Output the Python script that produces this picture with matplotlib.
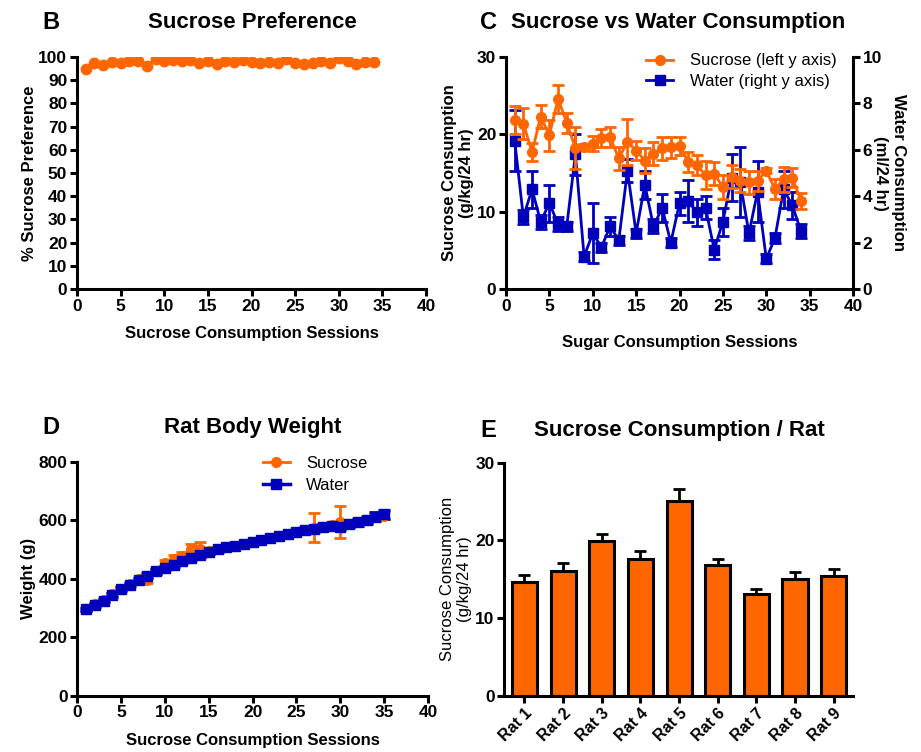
import matplotlib
matplotlib.use("Agg")
import matplotlib.pyplot as plt
from matplotlib.lines import Line2D

plt.rcParams["font.family"] = ["Liberation Sans", "DejaVu Sans"]
plt.rcParams["font.weight"] = "bold"
plt.rcParams["axes.labelweight"] = "bold"

ORANGE = "#FF6600"
BLUE = "#0000BB"

# Panel B: sucrose preference per session
pref_sessions = list(range(1, 35))
pref_values = [95.0, 97.5, 96.5, 98.0, 97.5, 98.3, 98.3, 96.3, 99.0, 98.3,
               98.8, 98.3, 98.5, 97.3, 98.3, 96.8, 98.2, 98.0, 98.8, 98.0,
               97.6, 98.0, 97.3, 99.0, 97.3, 96.8, 97.3, 98.3, 97.3, 99.4,
               98.3, 96.8, 97.8, 98.0]

# Panel C: sucrose (g/kg/24 hr) and water (ml/24 hr) consumption
cons_sessions = list(range(1, 35))
sucrose_mean = [21.8, 21.4, 17.7, 22.3, 19.9, 24.6, 21.5, 18.2, 18.4, 18.8,
                19.5, 19.6, 16.9, 19.0, 17.9, 16.6, 17.5, 18.2, 18.3, 18.5,
                16.4, 16.0, 14.7, 14.9, 13.2, 14.5, 14.0, 13.8, 14.0, 15.3,
                12.9, 14.2, 14.4, 11.4]
sucrose_err = [1.8, 2.0, 1.2, 1.5, 2.0, 1.8, 1.3, 2.7, 0.3, 1.0,
               1.2, 1.3, 1.5, 3.0, 1.2, 1.6, 1.5, 1.5, 1.3, 1.2,
               1.3, 1.3, 1.8, 1.5, 1.5, 1.5, 1.5, 1.5, 1.3, 0.3,
               1.3, 1.6, 1.2, 1.0]
water_mean = [6.4, 3.1, 4.3, 2.9, 3.7, 2.8, 2.7, 5.8, 1.4, 2.4,
              1.8, 2.7, 2.1, 5.1, 2.4, 4.5, 2.7, 3.5, 2.0, 3.7,
              3.8, 3.3, 3.5, 1.7, 2.9, 4.8, 4.6, 2.4, 4.2, 1.3,
              2.2, 4.3, 3.6, 2.5]
water_err = [1.3, 0.3, 0.8, 0.3, 0.8, 0.3, 0.2, 0.9, 0.2, 1.3,
             0.2, 0.4, 0.2, 0.5, 0.2, 0.6, 0.3, 0.6, 0.2, 0.5,
             0.9, 0.6, 0.5, 0.4, 0.6, 1.0, 1.5, 0.3, 1.3, 0.2,
             0.2, 0.8, 0.6, 0.3]

# Panel D: body weight (g)
weight_sessions = list(range(1, 36))
weight_sucrose = [295, 312, 328, 347, 366, 382, 398, 395, 425, 455,
                  468, 478, 500, 500, 495, 502, 507, 513, 520, 527,
                  533, 540, 547, 553, 560, 566, 575, 576, 582, 595,
                  588, 593, 600, 610, 615]
weight_sucrose_err = [5, 5, 5, 5, 5, 5, 6, 8, 8, 10,
                      12, 12, 20, 25, 8, 6, 6, 6, 6, 6,
                      6, 6, 6, 6, 8, 10, 50, 10, 10, 55,
                      10, 10, 10, 12, 12]
weight_water = [295, 310, 325, 345, 365, 380, 395, 410, 425, 437,
                447, 460, 472, 482, 492, 500, 507, 513, 520, 527,
                533, 540, 547, 553, 560, 566, 571, 576, 580, 578,
                588, 593, 600, 612, 620]
weight_water_err = [6, 6, 6, 6, 6, 6, 6, 8, 8, 8,
                    8, 8, 8, 8, 8, 8, 6, 6, 6, 6,
                    6, 6, 6, 6, 8, 8, 10, 10, 10, 12,
                    12, 12, 12, 15, 15]

# Panel E: sucrose consumption per rat
rats = ["Rat 1", "Rat 2", "Rat 3", "Rat 4", "Rat 5", "Rat 6", "Rat 7", "Rat 8", "Rat 9"]
rat_mean = [14.7, 16.1, 19.9, 17.6, 25.1, 16.8, 13.1, 15.0, 15.4]
rat_err = [0.9, 1.0, 0.9, 1.0, 1.5, 0.8, 0.7, 0.9, 0.9]

TICK_FS = 12.5
LABEL_FS = 12
LEGEND_FS = 12


def prism_axes(ax, right=False):
    for side in ["top"] + ([] if right else ["right"]):
        ax.spines[side].set_visible(False)
    for s in ax.spines.values():
        s.set_linewidth(2.2)
    ax.tick_params(direction="out", length=5, width=2.2, labelsize=TICK_FS, pad=2)
    for lab in ax.get_xticklabels() + ax.get_yticklabels():
        lab.set_fontweight("bold")


fig = plt.figure(figsize=(9.21, 7.52), dpi=100)

# ---- B ----
axB = fig.add_axes([0.0836, 0.6157, 0.379, 0.3085])
axB.plot(pref_sessions, pref_values, "-o", color=ORANGE, ms=7.5, lw=2)
axB.set_xlim(0, 40)
axB.set_ylim(0, 100)
axB.set_xticks(range(0, 41, 5))
axB.set_yticks(range(0, 101, 10))
prism_axes(axB)
axB.set_xlabel("Sucrose Consumption Sessions", fontsize=LABEL_FS, labelpad=9)
axB.set_ylabel("% Sucrose Preference", fontsize=LABEL_FS, labelpad=1)

# ---- C ----
axC = fig.add_axes([0.5494, 0.6157, 0.3768, 0.3085])
axC2 = axC.twinx()
axC.errorbar(cons_sessions, sucrose_mean, yerr=sucrose_err, fmt="-o", color=ORANGE,
             ms=7, lw=2, elinewidth=2, capsize=4, capthick=2, zorder=3)
axC2.errorbar(cons_sessions, water_mean, yerr=water_err, fmt="-s", color=BLUE,
              ms=7, lw=2, elinewidth=2, capsize=4, capthick=2)
axC.set_zorder(axC2.get_zorder() + 1)
axC.patch.set_visible(False)
axC.set_xlim(0, 40)
axC.set_ylim(0, 30)
axC2.set_ylim(0, 10)
axC.set_xticks(range(0, 41, 5))
axC.set_yticks([0, 10, 20, 30])
axC2.set_yticks(range(0, 11, 2))
prism_axes(axC)
prism_axes(axC2, right=True)
axC2.spines["left"].set_visible(False)
axC2.spines["bottom"].set_visible(False)
axC.set_xlabel("Sugar Consumption Sessions", fontsize=LABEL_FS, labelpad=15)
axC.set_ylabel("Sucrose Consumption\n(g/kg/24 hr)", fontsize=LABEL_FS, labelpad=2)
axC2.set_ylabel("Water Consumption\n(ml/24 hr)", fontsize=LABEL_FS, rotation=270,
                labelpad=17)
handlesC = [Line2D([], [], color=ORANGE, marker="o", ms=7, lw=2),
            Line2D([], [], color=BLUE, marker="s", ms=7, lw=2)]
axC.legend(handlesC, ["Sucrose (left y axis)", "Water (right y axis)"],
           loc="upper right", bbox_to_anchor=(0.995, 1.08), frameon=False,
           prop={"weight": "normal", "size": LEGEND_FS}, handlelength=1.6,
           handletextpad=1.0, labelspacing=0.35)

# ---- D ----
axD = fig.add_axes([0.0839, 0.0749, 0.3808, 0.3111])
axD.errorbar(weight_sessions, weight_sucrose, yerr=weight_sucrose_err, fmt="-o",
             color=ORANGE, ms=7, lw=2, elinewidth=2, capsize=4, capthick=2)
axD.errorbar(weight_sessions, weight_water, yerr=weight_water_err, fmt="-s",
             color=BLUE, ms=7.5, lw=2.5, elinewidth=2, capsize=4, capthick=2)
axD.set_xlim(0, 40)
axD.set_ylim(0, 800)
axD.set_xticks(range(0, 41, 5))
axD.set_yticks(range(0, 801, 200))
prism_axes(axD)
axD.set_xlabel("Sucrose Consumption Sessions", fontsize=LABEL_FS, labelpad=9)
axD.set_ylabel("Weight (g)", fontsize=LABEL_FS, labelpad=2)
handlesD = [Line2D([], [], color=ORANGE, marker="o", ms=7, lw=2),
            Line2D([], [], color=BLUE, marker="s", ms=7, lw=2.5)]
axD.legend(handlesD, ["Sucrose", "Water"], loc="upper left",
           bbox_to_anchor=(0.487, 1.09), frameon=False,
           prop={"weight": "normal", "size": LEGEND_FS}, handlelength=1.6,
           handletextpad=1.0, labelspacing=0.45)

# ---- E ----
axE = fig.add_axes([0.5476, 0.0745, 0.3786, 0.3102])
xpos = list(range(len(rats)))
axE.bar(xpos, rat_mean, width=0.65, color=ORANGE, edgecolor="black", linewidth=2.2,
        zorder=2)
axE.errorbar(xpos, rat_mean, yerr=[[0] * len(rats), rat_err], fmt="none",
             ecolor="black", elinewidth=2, capsize=4, capthick=2, zorder=1)
axE.set_xlim(-0.52, 8.5)
axE.set_ylim(0, 30)
axE.set_yticks([0, 10, 20, 30])
axE.set_xticks(xpos)
axE.set_xticklabels(rats, rotation=45, ha="right", rotation_mode="anchor")
prism_axes(axE)
axE.tick_params(axis="x", labelsize=11.5)
axE.set_ylabel("Sucrose Consumption\n(g/kg/24 hr)", fontsize=LABEL_FS,
               fontweight="normal", labelpad=2)

# Panel letters and titles
for x, y, letter in [(0.046, 0.970, "B"), (0.521, 0.970, "C"),
                     (0.046, 0.432, "D"), (0.522, 0.428, "E")]:
    fig.text(x, y, letter, fontsize=17, fontweight="bold", ha="left", va="center")
for x, y, title in [(0.2736, 0.970, "Sucrose Preference"),
                    (0.736, 0.970, "Sucrose vs Water Consumption"),
                    (0.2747, 0.432, "Rat Body Weight"),
                    (0.738, 0.428, "Sucrose Consumption / Rat")]:
    fig.text(x, y, title, fontsize=16, fontweight="bold", ha="center", va="center")

fig.savefig("out.png", dpi=100)
